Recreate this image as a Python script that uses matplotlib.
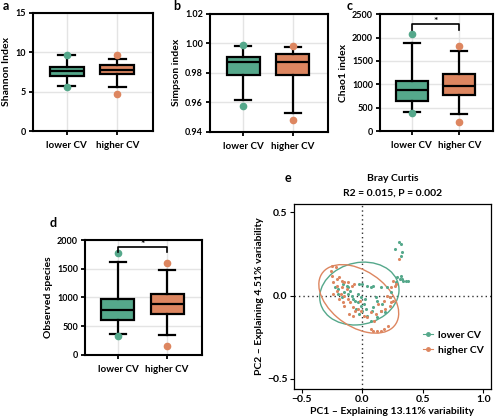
import numpy as np
import matplotlib
matplotlib.use("Agg")
import matplotlib.pyplot as plt
from matplotlib.patches import Ellipse
import matplotlib.transforms as transforms

plt.rcParams['font.family'] = ['Lato', 'DejaVu Sans']
plt.rcParams['font.weight'] = 'bold'

GREEN = '#55a88b'
ORANGE = '#dd8660'
groups = ['lower CV', 'higher CV']

# box stats: q1, median, q3, whisker low, whisker high, min, max
shannon_lower = [7.02, 7.57, 8.09, 5.74, 9.60, 5.6, 9.7]
shannon_higher = [7.23, 7.79, 8.34, 5.53, 9.19, 4.7, 9.6]
simpson_lower = [0.9784, 0.9870, 0.9907, 0.9618, 0.9980, 0.9573, 0.9986]
simpson_higher = [0.9784, 0.9875, 0.9927, 0.9527, 0.9973, 0.9482, 0.9984]
chao1_lower = [652, 874, 1067, 408, 1877, 380, 2070]
chao1_higher = [781, 960, 1225, 372, 1719, 200, 1812]
obs_lower = [604, 777, 979, 355, 1625, 327, 1775]
obs_higher = [719, 890, 1060, 345, 1470, 154, 1607]

# PCoA coordinates (Bray Curtis), estimated from the plot
pc_lower_x = [-0.23, -0.20, -0.16, -0.13, -0.12, -0.20, -0.17, -0.15, -0.12, -0.09,
              -0.08, -0.04, -0.03, 0.00, -0.01, -0.04, -0.01, 0.01, 0.03, 0.00,
              -0.03, -0.05, 0.04, 0.08, 0.09, 0.12, 0.16, 0.15, 0.19, 0.12,
              0.07, 0.11, 0.07, 0.09, 0.04, 0.15, 0.20, 0.24, 0.28, 0.31,
              0.33, 0.36, 0.32, 0.29, 0.23, 0.30, 0.32, 0.27, 0.33, 0.32,
              0.38, 0.34, -0.06, 0.02, -0.10]
pc_lower_y = [0.05, 0.04, 0.07, 0.06, 0.05, 0.01, -0.01, 0.02, 0.01, 0.00,
              -0.02, 0.01, 0.07, 0.07, -0.01, -0.04, -0.06, -0.05, -0.08, -0.09,
              -0.11, -0.08, -0.12, -0.09, -0.07, -0.03, -0.05, -0.09, -0.10, -0.13,
              -0.15, -0.01, 0.05, 0.06, 0.06, 0.05, 0.05, 0.02, 0.08, 0.10,
              0.10, 0.09, 0.12, 0.11, -0.01, 0.32, 0.31, 0.28, 0.26, 0.24,
              0.09, 0.09, -0.03, -0.02, 0.03]
pc_higher_x = [-0.25, -0.22, -0.25, -0.21, -0.19, -0.17, -0.15, -0.12, -0.09, -0.07,
               -0.24, -0.21, -0.17, -0.13, -0.21, -0.18, -0.15, -0.12, -0.16, -0.10,
               -0.08, -0.06, -0.11, -0.08, -0.04, -0.01, 0.01, 0.04, 0.07, 0.11,
               0.15, 0.19, 0.23, 0.24, 0.23, 0.20, 0.25, 0.18, 0.13, 0.07,
               0.09, 0.12, 0.15, 0.18, 0.21, 0.24, 0.28, 0.25, 0.27, -0.24,
               -0.19, -0.15, 0.30, -0.26, -0.02, 0.10]
pc_higher_y = [0.18, 0.17, 0.12, 0.10, 0.11, 0.09, 0.08, 0.08, 0.06, 0.07,
               0.08, 0.06, 0.05, 0.04, 0.03, 0.01, 0.00, -0.02, -0.04, -0.04,
               -0.07, -0.09, -0.11, -0.12, -0.08, -0.09, -0.12, -0.13, -0.10, -0.11,
               -0.09, -0.08, -0.06, -0.04, -0.01, 0.00, -0.03, -0.03, -0.05, -0.20,
               -0.21, -0.21, -0.21, -0.20, -0.18, 0.05, 0.07, 0.09, 0.06, 0.01,
               -0.02, -0.06, 0.22, 0.15, -0.03, -0.15]

# ellipse summary: centre x, centre y, sd x, sd y, correlation
ell_lower = [-0.025, 0.012, 0.134, 0.077, 0.12]
ell_higher = [-0.03, -0.02, 0.135, 0.084, -0.42]


def stats_of(vals, label):
    q1, med, q3, lo, hi, mn, mx = vals
    return dict(med=med, q1=q1, q3=q3, whislo=lo, whishi=hi, fliers=[mn, mx], label=label)


def box_panel(ax, lower, higher, ylim, yticks, ylabel, fmt=None, sig=None):
    st = [stats_of(lower, groups[0]), stats_of(higher, groups[1])]
    bp = ax.bxp(st, positions=[1, 2], widths=0.67, patch_artist=True,
                boxprops=dict(linewidth=1.6, edgecolor='black'),
                medianprops=dict(color='black', linewidth=1.6),
                whiskerprops=dict(linewidth=1.6), capprops=dict(linewidth=1.6),
                capwidths=0.33, zorder=3)
    for patch, c in zip(bp['boxes'], [GREEN, ORANGE]):
        patch.set_facecolor(c)
    for fl, c in zip(bp['fliers'], [GREEN, ORANGE]):
        fl.set(marker='o', markerfacecolor=c, markeredgecolor=c, markersize=4.5)
    ax.set_xlim(0.33, 2.71)
    ax.set_ylim(*ylim)
    ax.set_yticks(yticks)
    if fmt:
        ax.set_yticklabels([fmt.format(t) for t in yticks])
    ax.set_xticks([1, 2])
    ax.set_xticklabels(groups)
    ax.grid(True, color='#e4e4e4', linewidth=1, zorder=0)
    ax.set_axisbelow(True)
    for s in ax.spines.values():
        s.set_linewidth(1.5)
    ax.tick_params(width=1.3, length=3, labelsize=6.5, pad=2)
    ax.tick_params(axis='x', labelsize=7, pad=4)
    ax.set_ylabel(ylabel, fontsize=7.5, fontweight='bold', labelpad=3)
    if sig is not None:
        top, drop = sig
        ax.plot([1, 1, 2, 2], [top - drop, top, top, top - drop], color='black', lw=1.2, zorder=4)
        span = ylim[1] - ylim[0]
        ax.text(1.5, top + 0.025 * span, '*', ha='center', va='center', fontsize=7.5, zorder=5)


fig = plt.figure(figsize=(5.0, 4.16), dpi=100)

ax_a = fig.add_axes([0.066, 0.685, 0.24, 0.284])
box_panel(ax_a, shannon_lower, shannon_higher, (0, 15), [0, 5, 10, 15], 'Shannon Index')
ax_b = fig.add_axes([0.42, 0.683, 0.236, 0.284])
box_panel(ax_b, simpson_lower, simpson_higher, (0.94, 1.02), [0.94, 0.96, 0.98, 1.00, 1.02],
          'Simpson index', fmt='{:.2f}')
ax_c = fig.add_axes([0.76, 0.685, 0.226, 0.281])
box_panel(ax_c, chao1_lower, chao1_higher, (0, 2500), [0, 500, 1000, 1500, 2000, 2500],
          'Chao1 index', sig=(2285, 120))
ax_d = fig.add_axes([0.17, 0.147, 0.234, 0.276])
box_panel(ax_d, obs_lower, obs_higher, (0, 2000), [0, 500, 1000, 1500, 2000],
          'Observed species', sig=(1873, 75))

# PCoA panel
ax_e = fig.add_axes([0.587, 0.065, 0.394, 0.445])
ax_e.scatter(pc_lower_x, pc_lower_y, s=5, color=GREEN, zorder=3, linewidths=0)
ax_e.scatter(pc_higher_x, pc_higher_y, s=5, color=ORANGE, zorder=3, linewidths=0)
for ell, c in [(ell_lower, GREEN), (ell_higher, ORANGE)]:
    cx, cy, sx, sy, rho = ell
    k = np.sqrt(5.991)
    e = Ellipse((0, 0), width=2 * np.sqrt(1 + rho), height=2 * np.sqrt(1 - rho),
                facecolor='none', edgecolor=c, lw=1.0, zorder=2)
    tr = transforms.Affine2D().rotate_deg(45).scale(k * sx, k * sy).translate(cx, cy)
    e.set_transform(tr + ax_e.transData)
    ax_e.add_patch(e)
ax_e.axhline(0, color='#333333', ls=(0, (1, 2.2)), lw=1.0, zorder=1)
ax_e.axvline(0, color='#333333', ls=(0, (1, 2.2)), lw=1.0, zorder=1)
ax_e.set_xlim(-0.57, 1.06)
ax_e.set_ylim(-0.56, 0.55)
ax_e.set_xticks([-0.5, 0, 0.5, 1.0])
ax_e.set_xticklabels(['\u22120.5', '0.0', '0.5', '1.0'])
ax_e.set_yticks([-0.5, 0, 0.5])
ax_e.set_yticklabels(['\u22120.5', '0.0', '0.5'])
ax_e.tick_params(labelsize=7.5, length=3, width=0.8, pad=1.5)
for s in ax_e.spines.values():
    s.set_linewidth(0.9)
ax_e.set_xlabel('PC1 \u2013 Explaining 13.11% variability', fontsize=7.5, fontweight='bold', labelpad=2)
ax_e.set_ylabel('PC2 \u2013 Explaining 4.51% variability', fontsize=7.5, fontweight='bold', labelpad=2)
ax_e.plot([], [], color=GREEN, marker='o', markersize=2.5, lw=0.8, label='lower CV')
ax_e.plot([], [], color=ORANGE, marker='o', markersize=2.5, lw=0.8, label='higher CV')
ax_e.legend(loc='center right', bbox_to_anchor=(1.0, 0.25), frameon=False, fontsize=7.5,
            handlelength=1.0, handletextpad=0.5, labelspacing=0.6, borderaxespad=0.2)

fig.text(0.785, 0.572, 'Bray Curtis', ha='center', va='center', fontsize=7.5, fontweight='bold')
fig.text(0.785, 0.535, 'R2 = 0.015, P = 0.002', ha='center', va='center', fontsize=7.5, fontweight='bold')

for lab, x, y in [('a', 0.006, 0.985), ('b', 0.346, 0.985), ('c', 0.694, 0.985),
                  ('d', 0.1, 0.463), ('e', 0.57, 0.573)]:
    fig.text(x, y, lab, fontsize=9, fontweight='bold', ha='left', va='center')

fig.savefig('out.png', dpi=100)
